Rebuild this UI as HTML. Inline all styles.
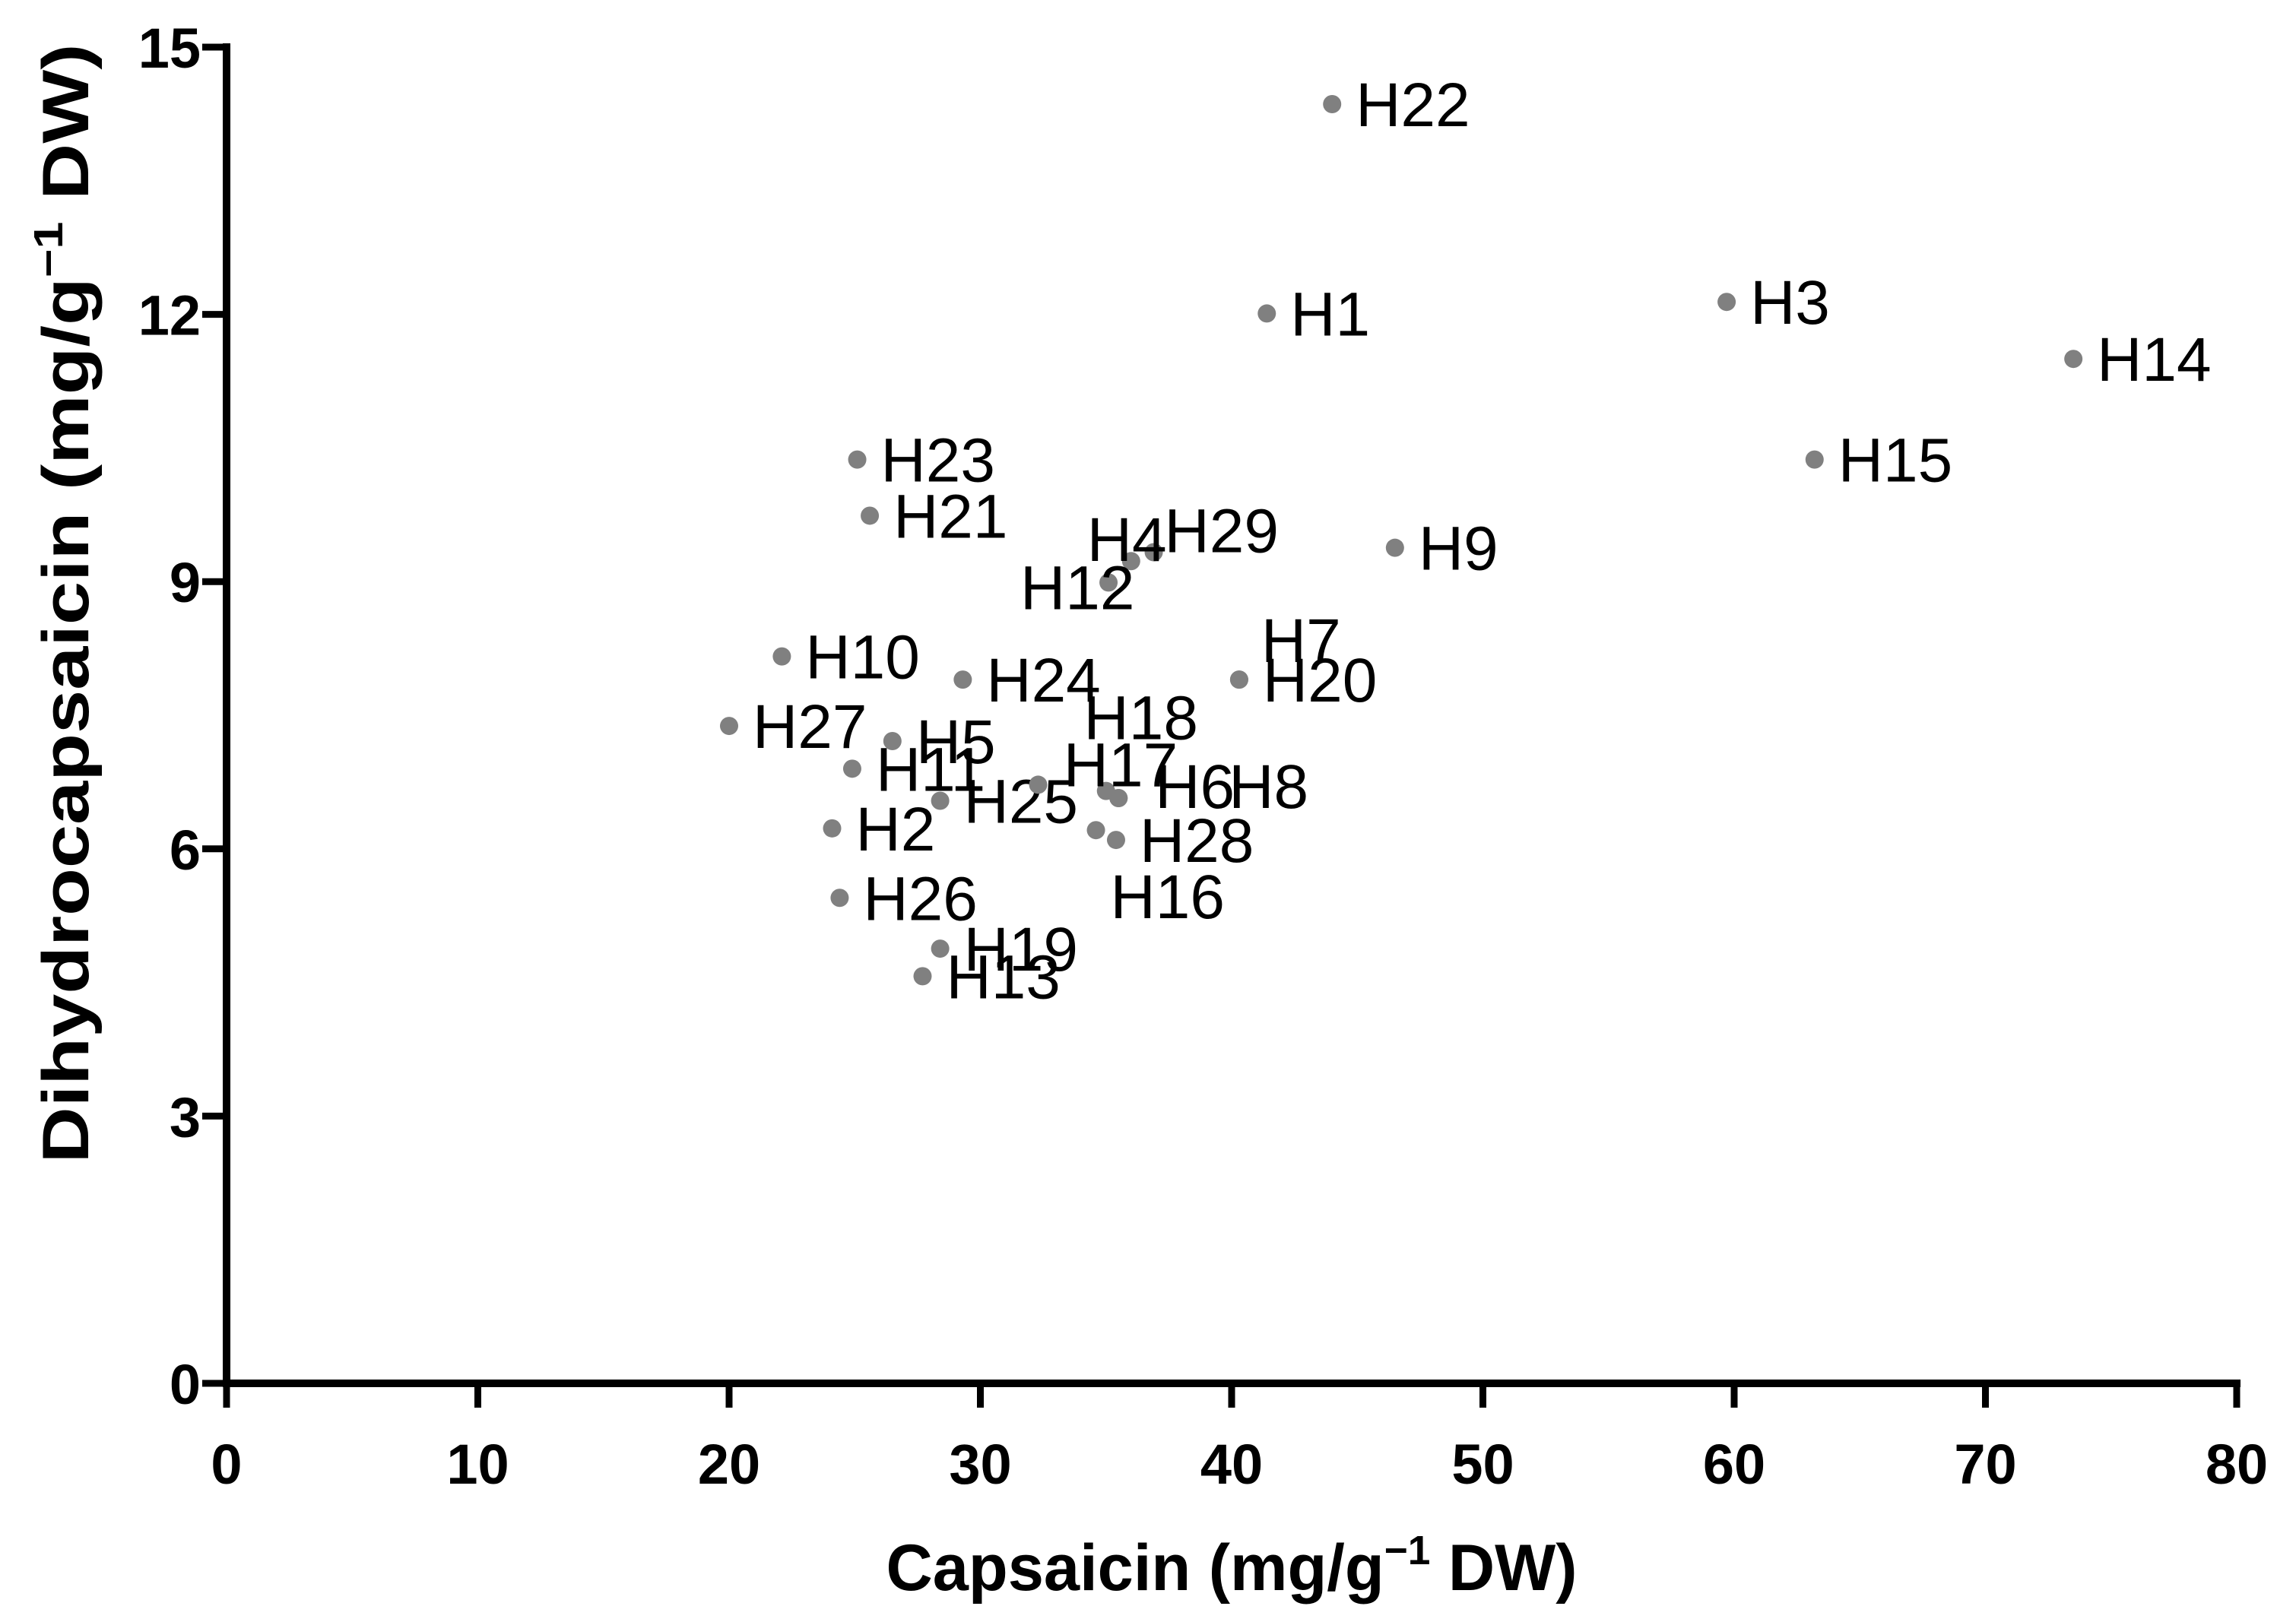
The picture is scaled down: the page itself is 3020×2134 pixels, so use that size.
<!DOCTYPE html>
<html><head><meta charset="utf-8"><style>
html,body{margin:0;padding:0;background:#fff;}
svg{display:block;}
text{font-family:"Liberation Sans",Arial,sans-serif;}
</style></head><body>
<svg id="chart" width="3020" height="2134" viewBox="0 0 3020 2134" xmlns="http://www.w3.org/2000/svg">
<g id="axes"></g>
<g id="points"></g>
<text x="1620" y="2092" font-size="86" font-weight="bold" text-anchor="middle" textLength="909" lengthAdjust="spacingAndGlyphs">Capsaicin (mg/g<tspan font-size="54" dy="-34">−1</tspan><tspan dy="34"> DW)</tspan></text>
<text transform="translate(116,794) rotate(-90)" font-size="86" font-weight="bold" text-anchor="middle" textLength="1473" lengthAdjust="spacingAndGlyphs">Dihydrocapsaicin (mg/g<tspan font-size="54" dy="-34">−1</tspan><tspan dy="34"> DW)</tspan></text>
</svg>
<script>
const labels = ["H22","H1","H3","H14","H15","H23","H21","H9","H29","H4","H12","H10","H24","H20","H7","H27","H5","H11","H25","H18","H17","H6","H8","H2","H16","H28","H26","H19","H13"];
const capsaicin = [44.0,41.4,59.7,73.5,63.2,25.1,25.6,46.5,36.9,36.0,35.1,22.1,29.3,40.3,40.3,20.0,26.5,24.9,28.4,32.3,35.0,35.5,35.5,24.1,34.6,35.4,24.4,28.4,27.7];
const dihydro = [14.36,12.01,12.14,11.5,10.37,10.37,9.74,9.38,9.33,9.23,8.99,8.16,7.90,7.90,7.90,7.38,7.21,6.90,6.54,6.72,6.65,6.57,6.57,6.23,6.21,6.10,5.45,4.88,4.57];
const xTicks = [0,10,20,30,40,50,60,70,80];
const yTicks = [0,3,6,9,12,15];
// label offsets (display-layout only)
const offs = {H4:[-58,-29],H29:[14,-29],H12:[-116,6],H7:[29,-52],H18:[60,-89],H17:[-56,-35],H6:[48,-16],H8:[145,-16],H16:[19,87]};

const X0=298,X1=2942,Y0=1820,Y1=62;
const sx=v=>X0+(v-0)/(80-0)*(X1-X0);
const sy=v=>Y0-(v-0)/(15-0)*(Y0-Y1);
const NS="http://www.w3.org/2000/svg";
const axes=document.getElementById('axes'), pts=document.getElementById('points');
function mk(tag,attrs,parent){const e=document.createElementNS(NS,tag);for(const k in attrs)e.setAttribute(k,attrs[k]);parent.appendChild(e);return e;}

let l=mk('line',{x1:X0,y1:Y1-5,x2:X0,y2:Y0+5,stroke:'#000','stroke-width':10},axes);


l=mk('line',{x1:X0-5,y1:Y0,x2:X1+5,y2:Y0,stroke:'#000','stroke-width':10},axes);



xTicks.forEach(v=>{
  const t=mk('line',{x1:sx(v),y1:Y0,x2:sx(v),y2:Y0+32,stroke:'#000','stroke-width':9},axes);
  
  
  const tx=mk('text',{x:sx(v),y:Y0+132,'font-size':74,'font-weight':'bold','text-anchor':'middle'},axes);
  tx.textContent=v;
  
  
});
yTicks.forEach(v=>{
  const t=mk('line',{x1:X0-32,y1:sy(v),x2:X0,y2:sy(v),stroke:'#000','stroke-width':9},axes);
  
  
  const tx=mk('text',{x:X0-34,y:sy(v)+27,'font-size':74,'font-weight':'bold','text-anchor':'end'},axes);
  tx.textContent=v;
  
  
});
labels.forEach((lab,i)=>{
  const cx=sx(capsaicin[i]), cy=sy(dihydro[i]);
  const c=mk('circle',{cx:cx,cy:cy,r:12,fill:'#808080'},pts);
  
  
  const o=offs[lab]||[31,0];
  const t=mk('text',{x:cx+o[0],y:cy+o[1]+29,'font-size':82,fill:'#000'},pts);
  t.textContent=lab;
  
  
});
</script>
</body></html>
